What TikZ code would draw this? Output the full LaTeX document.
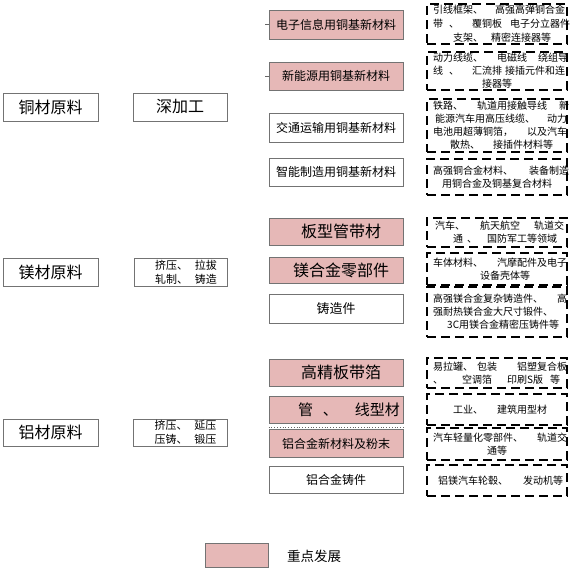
\documentclass[tikz,border=0pt]{standalone}
\usepackage{fontspec}
\setmainfont{Noto Sans CJK SC}
\definecolor{keypink}{HTML}{E6B8B7}
\newcommand\myln[1]{\mbox{#1}}
\tikzset{
  plainbox/.style={draw=black!55, line width=0.7pt, fill=white, inner sep=0pt},
  keybox/.style={plainbox, fill=keypink},
  midbox/.style={minimum width=134pt},
  dbox/.style={draw=black, line width=1.9pt, dash pattern=on 9pt off 5pt, inner sep=0pt, minimum width=140pt},
  dtext/.style={anchor=west, inner sep=0pt, align=left, font=\fontsize{10}{13}\selectfont},
  tickline/.style={draw=black!60, line width=0.6pt},
  fbig/.style={font=\fontsize{16}{18}\selectfont},
  fmid/.style={font=\fontsize{12}{14}\selectfont}
}
\begin{document}
\begin{tikzpicture}[x=1pt,y=-1pt]
\useasboundingbox (0,0) rectangle (570,570);
\fill[white] (0,0) rectangle (570,570);

% left column
\node[plainbox, fbig, minimum width=95pt, minimum height=28pt] (cu) at (50.5,107) {铜材原料};
\node[plainbox, fbig, minimum width=94pt, minimum height=28pt] (sjg) at (180,107) {深加工};
\node[plainbox, fbig, minimum width=95pt, minimum height=28pt] (mg) at (50.5,272) {镁材原料};
\node[plainbox, minimum width=93pt, minimum height=28pt, align=left, font=\fontsize{11}{14}\selectfont] (mgp) at (180.5,272)
  {\myln{\kern11pt挤压、\kern7pt拉拔}\\\myln{\kern11pt轧制、\kern7pt铸造}};
\node[plainbox, fbig, minimum width=95pt, minimum height=27pt] (al) at (50.5,432.5) {铝材原料};
\node[plainbox, minimum width=94pt, minimum height=27pt, align=left, font=\fontsize{11}{14}\selectfont] (alp) at (180,432.5)
  {\myln{\kern11pt挤压、\kern7pt延压}\\\myln{\kern11pt压铸、\kern7pt锻压}};

% middle column
\node[keybox, midbox, fmid, minimum height=29pt] (m1) at (336,24.5) {电子信息用铜基新材料};
\node[keybox, midbox, fmid, minimum height=28pt] (m2) at (336,76) {新能源用铜基新材料};
\node[plainbox, midbox, fmid, minimum height=29pt] (m3) at (336,127.5) {交通运输用铜基新材料};
\node[plainbox, midbox, fmid, minimum height=28pt] (m4) at (336,172) {智能制造用铜基新材料};
\node[keybox, midbox, fbig, minimum height=27pt] (m5) at (336,231.5) {\myln{\kern10pt板型管带材}};
\node[keybox, midbox, fbig, minimum height=26pt] (m6) at (336,270) {\myln{\kern10pt镁合金零部件}};
\node[plainbox, midbox, minimum height=29pt, font=\fontsize{13}{15}\selectfont] (m7) at (336,308.5) {铸造件};
\node[keybox, midbox, fbig, minimum height=27pt] (m8) at (336,372.5) {\myln{\kern10pt高精板带箔}};
\node[keybox, midbox, minimum height=27pt, font=\fontsize{15}{17}\selectfont] (m9) at (336,409.5) {\myln{\kern26pt管\kern10pt、\kern17pt线型材}};
\node[keybox, midbox, fmid, minimum height=28pt] (m10) at (336,443.5) {铝合金新材料及粉末};
\node[plainbox, midbox, fmid, minimum height=27pt] (m11) at (336,479.5) {铝合金铸件};
\draw[dotted, line width=0.8pt, black!60] ([yshift=1.5pt]m10.north west) -- ([yshift=1.5pt]m10.north east);

% stubs
\coordinate (t1) at (265,24.5);
\coordinate (t2) at (265,76);
\draw[tickline] (t1) -- (m1.west);
\draw[tickline] (t2) -- (m2.west);

% dashed text boxes: texts
\node[dtext, font=\fontsize{10}{14}\selectfont] (d1t) at (433,24)
  {\myln{引线框架、\kern12pt高强高弹铜合金}\\\myln{带\kern6pt、\kern13pt覆铜板\kern8pt电子分立器件}\\\myln{\kern20pt支架、\kern8pt精密连接器等}};
\node[dtext] (d2t) at (433,71)
  {\myln{动力线缆、\kern14pt电磁线\kern11pt绕组导}\\\myln{线\kern6pt、\kern13pt汇流排\kern3pt接插元件和连}\\\myln{\kern49pt接器等}};
\node[dtext] (d3t) at (433,125.5)
  {\myln{铁路、\kern14pt轨道用接触导线\kern12pt新}\\\myln{\kern2pt能源汽车用高压线缆、\kern12pt动力}\\\myln{电池用超薄铜箔，\kern14pt以及汽车}\\\myln{\kern17pt散热、\kern13pt接插件材料等}};
\node[dtext] (d4t) at (433,177)
  {\myln{高强铜合金材料、\kern16pt装备制造}\\\myln{\kern9pt用铜合金及铜基复合材料}};
\node[dtext] (d5t) at (433,232.5)
  {\myln{\kern2pt汽车、\kern15pt航天航空\kern14pt轨道交}\\\myln{\kern20pt通\kern4pt、\kern10pt国防军工等领域}};
\node[dtext] (d6t) at (433,269)
  {\myln{车体材料、\kern14pt汽摩配件及电子}\\\myln{\kern47pt设备壳体等}};
\node[dtext] (d7t) at (433,312)
  {\myln{高强镁合金复杂铸造件、\kern14pt高}\\\myln{强耐热镁合金大尺寸锻件、}\\\myln{\kern14pt3C用镁合金精密压铸件等}};
\node[dtext] (d8t) at (433,373)
  {\myln{易拉罐、\kern4pt包装\kern20pt铝塑复合板}\\\myln{、\kern19pt空调箔\kern15pt印刷S版\kern7pt等}};
\node[dtext] (d9t) at (433,409.5)
  {\myln{\kern20pt工业、\kern14pt建筑用型材}};
\node[dtext] (d10t) at (433,444)
  {\myln{汽车轻量化零部件、\kern14pt轨道交}\\\myln{\kern54pt通等}};
\node[dtext] (d11t) at (433,480.5)
  {\myln{\kern5pt铝镁汽车轮毂、\kern15pt发动机等}};

% dashed boxes
\node[dbox, minimum height=40pt] (d1) at (497,24) {};
\node[dbox, minimum height=38pt] (d2) at (497,71) {};
\node[dbox, minimum height=53pt] (d3) at (497,125.5) {};
\node[dbox, minimum height=36pt] (d4) at (497,177) {};
\node[dbox, minimum height=29pt] (d5) at (497,232.5) {};
\node[dbox, minimum height=32pt] (d6) at (497,269) {};
\node[dbox, minimum height=50pt] (d7) at (497,312) {};
\node[dbox, minimum height=30pt] (d8) at (497,373) {};
\node[dbox, minimum height=31pt] (d9) at (497,409.5) {};
\node[dbox, minimum height=32pt] (d10) at (497,444) {};
\node[dbox, minimum height=31pt] (d11) at (497,480.5) {};

% legend
\node[keybox, minimum width=63pt, minimum height=24pt] (lg) at (236.5,555) {};
\node[anchor=west, inner sep=0pt, font=\fontsize{13.5}{16}\selectfont] (lgt) at (287,556) {重点发展};
\end{tikzpicture}
\end{document}
